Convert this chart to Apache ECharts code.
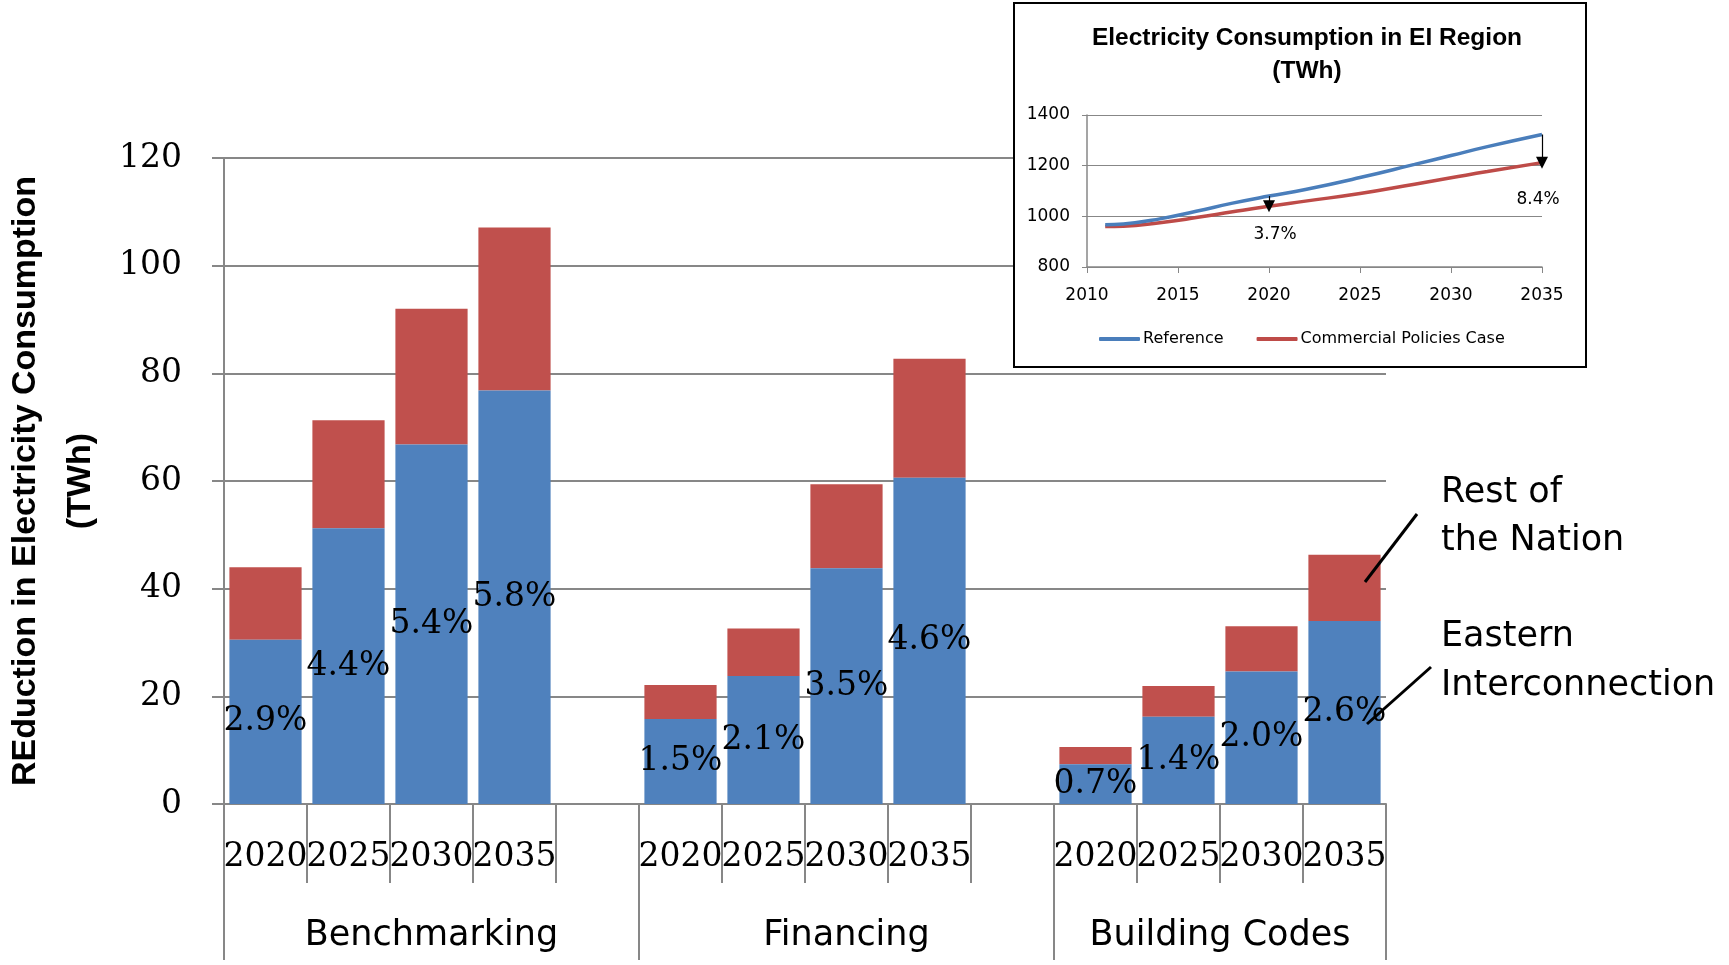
<!DOCTYPE html>
<html>
<head>
<meta charset="utf-8">
<script src="https://cdn.jsdelivr.net/npm/echarts@6/dist/echarts.min.js"></script>
<style>
  html, body { margin: 0; padding: 0; background: #ffffff; }
  #chart { width: 1729px; height: 965px; }
</style>
</head>
<body>
<div id="chart"></div>
<script>
// Policy groups and projection years shown under each group
const groups = ['Benchmarking', 'Financing', 'Building Codes'];
const years = ['2020', '2025', '2030', '2035'];

// Reduction in electricity consumption (TWh), group by group, year by year
const easternInterconnection = [
  30.5, 51.2, 66.8, 76.8,
  15.8, 23.8, 43.8, 60.6,
  7.4, 16.2, 24.6, 34.0
];
const restOfNation = [
  13.5, 20.1, 25.2, 30.3,
  6.3, 8.8, 15.6, 22.1,
  3.2, 5.7, 8.4, 12.3
];
// Savings as a share of Eastern Interconnection consumption
const eiShareLabels = [
  '2.9%', '4.4%', '5.4%', '5.8%',
  '1.5%', '2.1%', '3.5%', '4.6%',
  '0.7%', '1.4%', '2.0%', '2.6%'
];
const yMax = 120;
const yStep = 20;

// Inset: electricity consumption in the EI region (TWh)
const insetYears = [2011, 2012, 2014, 2016, 2018, 2020, 2022, 2025, 2028, 2030, 2032, 2035];
const referenceCase = [967, 970, 990, 1020, 1052, 1080, 1106, 1153, 1205, 1240, 1275, 1323];
const policiesCase = [960, 961, 975, 995, 1018, 1040, 1060, 1090, 1127, 1152, 1177, 1212];
const gapYears = [2020, 2035];
const gapLabels = ['3.7%', '8.4%'];

// Category slots: four years per group, a blank slot between groups
const categories = [];
const eiData = [];
const restData = [];
const labelFor = {};
const groupStart = [];
groups.forEach((g, gi) => {
  groupStart.push(categories.length);
  years.forEach((y, yi) => {
    const k = gi * years.length + yi;
    labelFor[categories.length] = eiShareLabels[k];
    categories.push(y);
    eiData.push(easternInterconnection[k]);
    restData.push(restOfNation[k]);
  });
  if (gi < groups.length - 1) {
    categories.push('');
    eiData.push('-');
    restData.push('-');
  }
});
const slotCount = categories.length;
// group label sits in the middle of its span (span runs to the next group start)
const groupEdges = groupStart.concat([slotCount]);
const groupCenters = groups.map((g, i) => (groupEdges[i] + groupEdges[i + 1]) / 2);

const grey = '#878787';
const serif = 'DejaVu Serif';
const sans = 'DejaVu Sans';

const chart = echarts.init(document.getElementById('chart'), null, { renderer: 'canvas' });

const option = {
  backgroundColor: '#ffffff',
  animation: false,
  title: {
    text: 'Electricity Consumption in EI Region\n(TWh)',
    left: 1302,
    top: 17,
    textAlign: 'center',
    z: 30,
    textStyle: {
      fontFamily: 'Liberation Sans',
      fontWeight: 'bold',
      fontSize: 24.5,
      lineHeight: 33,
      color: '#000'
    }
  },
  legend: {
    data: ['Reference', 'Commercial Policies Case'],
    left: 1094,
    top: 326,
    icon: 'roundRect',
    itemWidth: 41,
    itemHeight: 4,
    itemGap: 33,
    z: 30,
    textStyle: { fontFamily: sans, fontSize: 16, color: '#000', padding: [0, 0, 0, -2] }
  },
  grid: [
    { left: 224, top: 158, width: 1162, height: 646, outerBoundsMode: 'none', containLabel: false },
    { left: 1087, top: 115, width: 455, height: 152, z: 20, outerBoundsMode: 'none', containLabel: false }
  ],
  xAxis: [
    {
      type: 'category',
      gridIndex: 0,
      data: categories,
      position: 'bottom',
      boundaryGap: true,
      axisLine: { lineStyle: { color: grey, width: 2 } },
      axisTick: { show: true, interval: 0, length: 79, lineStyle: { color: grey, width: 2 } },
      axisLabel: {
        interval: 0,
        hideOverlap: false,
        margin: 37,
        fontFamily: serif,
        fontSize: 33,
        color: '#000'
      },
      splitLine: { show: false }
    },
    {
      type: 'value',
      gridIndex: 0,
      min: 0,
      max: slotCount,
      position: 'bottom',
      axisLine: { show: false },
      axisTick: { show: true, customValues: groupEdges, length: 156, lineStyle: { color: grey, width: 2 } },
      axisLabel: {
        customValues: groupCenters,
        margin: 114,
        fontFamily: sans,
        fontSize: 35,
        color: '#000',
        formatter: (v) => groups[groupCenters.indexOf(v)] || ''
      },
      splitLine: { show: false }
    },
    {
      type: 'value',
      gridIndex: 1,
      min: 2010,
      max: 2035,
      interval: 5,
      z: 20,
      axisLine: { lineStyle: { color: grey, width: 1.5 } },
      axisTick: { show: true, length: 6, lineStyle: { color: grey } },
      axisLabel: { margin: 20, fontFamily: sans, fontSize: 17, color: '#000', formatter: (v) => String(v) },
      splitLine: { show: false }
    }
  ],
  yAxis: [
    {
      type: 'value',
      gridIndex: 0,
      min: 0,
      max: yMax,
      interval: yStep,
      name: 'REduction in Electricity Consumption\n(TWh)',
      nameLocation: 'middle',
      nameRotate: 90,
      nameGap: 116,
      nameTextStyle: {
        fontFamily: 'Liberation Sans',
        fontWeight: 'bold',
        fontSize: 34,
        lineHeight: 55,
        color: '#000'
      },
      axisLine: { show: true, lineStyle: { color: grey, width: 2 } },
      axisTick: { show: true, length: 12, lineStyle: { color: grey, width: 2 } },
      axisLabel: { margin: 42, fontFamily: serif, fontSize: 33, color: '#000' },
      splitLine: { show: true, lineStyle: { color: grey, width: 2 } }
    },
    {
      type: 'value',
      gridIndex: 1,
      min: 800,
      max: 1400,
      interval: 200,
      z: 20,
      axisLine: { show: true, lineStyle: { color: grey, width: 1.5 } },
      axisTick: { show: true, length: 5, lineStyle: { color: grey } },
      axisLabel: { margin: 17, fontFamily: sans, fontSize: 17, color: '#000', formatter: (v) => String(v) },
      splitLine: { show: true, lineStyle: { color: grey, width: 1 } }
    }
  ],
  series: [
    {
      name: 'Eastern Interconnection',
      type: 'bar',
      stack: 'total',
      xAxisIndex: 0,
      yAxisIndex: 0,
      barCategoryGap: '13%',
      z: 3,
      itemStyle: { color: '#4F81BD' },
      label: {
        show: true,
        position: 'inside',
        fontFamily: serif,
        fontSize: 33,
        color: '#000',
        formatter: (p) => labelFor[p.dataIndex] || ''
      },
      data: eiData
    },
    {
      name: 'Rest of the Nation',
      type: 'bar',
      stack: 'total',
      xAxisIndex: 0,
      yAxisIndex: 0,
      barCategoryGap: '13%',
      itemStyle: { color: '#C0504D' },
      data: restData
    },
    {
      name: 'Reference',
      type: 'line',
      xAxisIndex: 2,
      yAxisIndex: 1,
      smooth: true,
      showSymbol: false,
      z: 22,
      color: '#4A7EBB',
      lineStyle: { width: 3.5, color: '#4A7EBB' },
      data: insetYears.map((y, i) => [y, referenceCase[i]]),
      markLine: {
        silent: true,
        z: 40,
        symbol: ['none', 'triangle'],
        symbolSize: [12, 12],
        label: { show: false },
        lineStyle: { color: '#000', width: 1.2, type: 'solid' },
        itemStyle: { color: '#000' },
        emphasis: { disabled: true },
        data: gapYears.map((y) => [
          { coord: [y, referenceCase[insetYears.indexOf(y)]] },
          { coord: [y, policiesCase[insetYears.indexOf(y)]] }
        ])
      }
    },
    {
      name: 'Commercial Policies Case',
      type: 'line',
      xAxisIndex: 2,
      yAxisIndex: 1,
      smooth: true,
      showSymbol: false,
      z: 21,
      color: '#BE4B48',
      lineStyle: { width: 3.5, color: '#BE4B48' },
      data: insetYears.map((y, i) => [y, policiesCase[i]]),
      markPoint: {
        silent: true,
        z: 40,
        symbol: 'circle',
        symbolSize: 1,
        itemStyle: { color: 'rgba(0,0,0,0)' },
        data: gapYears.map((y, i) => ({
          coord: [y, policiesCase[insetYears.indexOf(y)]],
          value: gapLabels[i],
          label: {
            show: true,
            position: 'inside',
            offset: i === 0 ? [6, 28] : [-4, 37],
            fontFamily: sans,
            fontSize: 17,
            color: '#000',
            formatter: '{c}'
          }
        }))
      }
    }
  ],
  graphic: [
    {
      type: 'rect',
      z: 15,
      shape: { x: 1014, y: 3, width: 572, height: 364 },
      style: { fill: '#ffffff', stroke: '#000000', lineWidth: 2 }
    },
    {
      type: 'line',
      z: 15,
      shape: { x1: 1417, y1: 514, x2: 1365, y2: 582 },
      style: { stroke: '#000', lineWidth: 3 }
    },
    {
      type: 'line',
      z: 15,
      shape: { x1: 1431, y1: 667, x2: 1367, y2: 724 },
      style: { stroke: '#000', lineWidth: 3 }
    },
    {
      type: 'text',
      z: 15,
      x: 1441, y: 493,
      style: { text: 'Rest of', fontFamily: sans, fontSize: 35, fill: '#000', verticalAlign: 'middle' }
    },
    {
      type: 'text',
      z: 15,
      x: 1441, y: 541,
      style: { text: 'the Nation', fontFamily: sans, fontSize: 35, fill: '#000', verticalAlign: 'middle' }
    },
    {
      type: 'text',
      z: 15,
      x: 1441, y: 637,
      style: { text: 'Eastern', fontFamily: sans, fontSize: 35, fill: '#000', verticalAlign: 'middle' }
    },
    {
      type: 'text',
      z: 15,
      x: 1441, y: 686,
      style: { text: 'Interconnection', fontFamily: sans, fontSize: 35, fill: '#000', verticalAlign: 'middle' }
    }
  ]
};

chart.setOption(option);
</script>
</body>
</html>
